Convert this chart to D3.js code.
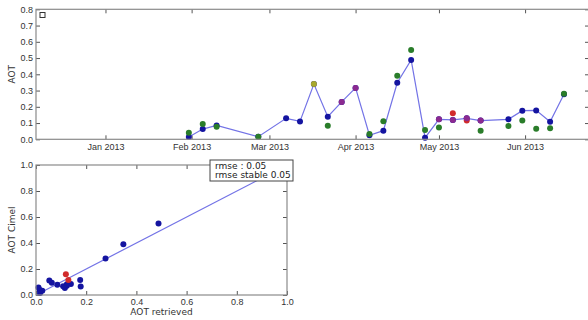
<!DOCTYPE html>
<html>
<head>
<meta charset="utf-8">
<script src="https://cdn.jsdelivr.net/npm/d3@7"></script>
<style>
  body { margin: 0; background: #fff; }
  svg { font-family: "DejaVu Sans", sans-serif; }
  .tick text { fill: #333; font-size: 9px; }
  .tick line { stroke: #555; }
</style>
</head>
<body>
<svg id="chart" width="588" height="320"></svg>
<script>
// observation dates (every ~5 days, some gaps)
const dates = ["2013-01-31", "2013-02-05", "2013-02-10", "2013-02-25", "2013-03-07",
    "2013-03-12", "2013-03-17", "2013-03-22", "2013-03-27", "2013-04-01",
    "2013-04-06", "2013-04-11", "2013-04-16", "2013-04-21", "2013-04-26",
    "2013-05-01", "2013-05-06", "2013-05-11", "2013-05-16", "2013-05-26",
    "2013-05-31", "2013-06-05", "2013-06-10", "2013-06-15"];
// AOT retrieved (blue line)
const aotRetrieved = [0.014, 0.063, 0.085, 0.016, 0.129, 0.110, 0.340, 0.139, 0.230, 0.316,
    0.025, 0.053, 0.348, 0.488, 0.010, 0.123, 0.119, 0.129, 0.115, 0.123,
    0.176, 0.178, 0.108, 0.277];
// flag on the retrieved point: "" normal, "m" purple, "y" olive
const retrievedFlag = ["", "", "", "", "", "", "y", "", "m", "m",
    "", "", "", "", "", "m", "m", "m", "m", "",
    "", "", "", ""];
// AOT Cimel (null = no measurement)
const aotCimel = [0.040, 0.094, 0.078, 0.016, null, null, null, 0.084, null, null,
    0.033, 0.111, 0.391, 0.550, 0.057, 0.072, 0.160, 0.115, 0.053, 0.082,
    0.115, 0.065, 0.068, 0.280];
// flag on the cimel point: "" normal (green), "r" red
const cimelFlag = ["", "", "", "", "", "", "", "", "", "",
    "", "", "", "", "", "", "r", "r", "", "",
    "", "", "", ""];

const yTicksTop = [0, 0.1, 0.2, 0.3, 0.4, 0.5, 0.6, 0.7, 0.8];
const scatterTicks = [0, 0.2, 0.4, 0.6, 0.8, 1.0];
const fitLine = [[0, 0], [1, 1]];
const legendLines = ["rmse : 0.05", "rmse stable 0.05"];

const colors = {
    line: "#7373e6",
    blue: "#1414a0",
    m: "#8b2a90",
    y: "#a8a82c",
    green: "#2a7d2a",
    r: "#d12b2b",
    frame: "#8a8a8a"
};

const parse = d3.timeParse("%Y-%m-%d");
const svg = d3.select("#chart");

const rows = dates.map((d, i) => ({
    date: parse(d),
    ret: aotRetrieved[i],
    rflag: retrievedFlag[i],
    cim: aotCimel[i],
    cflag: cimelFlag[i]
}));

// ---------- top time series ----------
let boxTop = {left: 36, right: 589, top: 9.3, bottom: 139.3};
let xTime = d3.scaleTime()
    .domain([parse("2012-12-07"), parse("2013-06-24")])
    .range([boxTop.left, boxTop.right]);
let yTop = d3.scaleLinear().domain([0, 0.8]).range([boxTop.bottom, boxTop.top]);

function frame(box) {
    svg.append("rect")
        .attr("x", box.left).attr("y", box.top)
        .attr("width", box.right - box.left).attr("height", box.bottom - box.top)
        .attr("fill", "none").attr("stroke", colors.frame).attr("stroke-width", 1.2);
}

let gTop = svg.append("g");
gTop.append("g")
    .attr("transform", "translate(0," + boxTop.bottom + ")")
    .call(d3.axisBottom(xTime).ticks(d3.timeMonth.every(1)).tickFormat(d3.timeFormat("%b %Y"))
        .tickSize(-4).tickPadding(4.5))
    .call(g => g.select(".domain").remove());
gTop.append("g")
    .attr("transform", "translate(0," + boxTop.top + ")")
    .call(d3.axisTop(xTime).ticks(d3.timeMonth.every(1)).tickFormat("").tickSize(-4))
    .call(g => g.select(".domain").remove());
gTop.append("g")
    .attr("transform", "translate(" + boxTop.left + ",0)")
    .call(d3.axisLeft(yTop).tickValues(yTicksTop).tickFormat(d3.format(".1f"))
        .tickSize(-4).tickPadding(3))
    .call(g => g.select(".domain").remove());
gTop.append("g")
    .attr("transform", "translate(" + boxTop.right + ",0)")
    .call(d3.axisRight(yTop).tickValues(yTicksTop).tickFormat("").tickSize(-4))
    .call(g => g.select(".domain").remove());
frame(boxTop);

svg.append("text")
    .attr("text-anchor", "middle")
    .attr("transform", "translate(15," + ((boxTop.top + boxTop.bottom) / 2) + ")rotate(-90)")
    .attr("font-size", 9).attr("fill", "#333")
    .text("AOT");

// empty legend box in the corner
svg.append("rect")
    .attr("x", 40).attr("y", 12.5).attr("width", 5).attr("height", 5)
    .attr("fill", "#fff").attr("stroke", "#333").attr("stroke-width", 1);

let lineGen = d3.line()
    .x(d => xTime(d.date))
    .y(d => yTop(d.ret));
gTop.append("path")
    .attr("d", lineGen(rows))
    .attr("fill", "none")
    .attr("stroke", colors.line)
    .attr("stroke-width", 1.2);

gTop.selectAll("circle.ret")
    .data(rows)
    .enter()
    .append("circle")
    .attr("class", "ret")
    .attr("cx", d => xTime(d.date))
    .attr("cy", d => yTop(d.ret))
    .attr("r", 3)
    .attr("fill", colors.blue);

gTop.selectAll("circle.cim")
    .data(rows.filter(d => d.cim !== null))
    .enter()
    .append("circle")
    .attr("class", "cim")
    .attr("cx", d => xTime(d.date))
    .attr("cy", d => yTop(d.cim))
    .attr("r", 3)
    .attr("fill", d => d.cflag ? colors[d.cflag] : colors.green);

gTop.selectAll("circle.flag")
    .data(rows.filter(d => d.rflag))
    .enter()
    .append("circle")
    .attr("class", "flag")
    .attr("cx", d => xTime(d.date))
    .attr("cy", d => yTop(d.ret))
    .attr("r", 3)
    .attr("fill", d => colors[d.rflag]);

// ---------- bottom scatter ----------
let boxBot = {left: 36, right: 287, top: 165, bottom: 295};
let xS = d3.scaleLinear().domain([0, 1]).range([boxBot.left, boxBot.right]);
let yS = d3.scaleLinear().domain([0, 1]).range([boxBot.bottom, boxBot.top]);

let gBot = svg.append("g");
gBot.append("g")
    .attr("transform", "translate(0," + boxBot.bottom + ")")
    .call(d3.axisBottom(xS).tickValues(scatterTicks).tickFormat(d3.format(".1f"))
        .tickSize(-4).tickPadding(3.5))
    .call(g => g.select(".domain").remove());
gBot.append("g")
    .attr("transform", "translate(0," + boxBot.top + ")")
    .call(d3.axisTop(xS).tickValues(scatterTicks).tickFormat("").tickSize(-4))
    .call(g => g.select(".domain").remove());
gBot.append("g")
    .attr("transform", "translate(" + boxBot.left + ",0)")
    .call(d3.axisLeft(yS).tickValues(scatterTicks).tickFormat(d3.format(".1f"))
        .tickSize(-4).tickPadding(3))
    .call(g => g.select(".domain").remove());
gBot.append("g")
    .attr("transform", "translate(" + boxBot.right + ",0)")
    .call(d3.axisRight(yS).tickValues(scatterTicks).tickFormat("").tickSize(-4))
    .call(g => g.select(".domain").remove());
frame(boxBot);

svg.append("text")
    .attr("text-anchor", "middle")
    .attr("transform", "translate(15," + ((boxBot.top + boxBot.bottom) / 2) + ")rotate(-90)")
    .attr("font-size", 9).attr("fill", "#333")
    .text("AOT Cimel");
svg.append("text")
    .attr("text-anchor", "middle")
    .attr("x", (boxBot.left + boxBot.right) / 2).attr("y", 315)
    .attr("font-size", 9).attr("fill", "#333")
    .text("AOT retrieved");

gBot.append("path")
    .attr("d", d3.line().x(d => xS(d[0])).y(d => yS(d[1]))(fitLine))
    .attr("fill", "none")
    .attr("stroke", colors.line)
    .attr("stroke-width", 1.2);

let pairs = rows.filter(d => d.cim !== null);
gBot.selectAll("circle.pt")
    .data(pairs.filter(d => !d.cflag).concat(pairs.filter(d => d.cflag)))
    .enter()
    .append("circle")
    .attr("class", "pt")
    .attr("cx", d => xS(d.ret))
    .attr("cy", d => yS(d.cim))
    .attr("r", 3)
    .attr("fill", d => d.cflag ? colors[d.cflag] : colors.blue);

// legend box
let leg = svg.append("g").attr("transform", "translate(210,160)");
leg.append("rect")
    .attr("width", 83).attr("height", 21)
    .attr("fill", "#fff").attr("stroke", "#444").attr("stroke-width", 1);
legendLines.forEach((t, i) => {
    leg.append("text")
        .attr("x", 5).attr("y", 9 + i * 9)
        .attr("font-size", 9).attr("fill", "#222")
        .text(t);
});
</script>
</body>
</html>
